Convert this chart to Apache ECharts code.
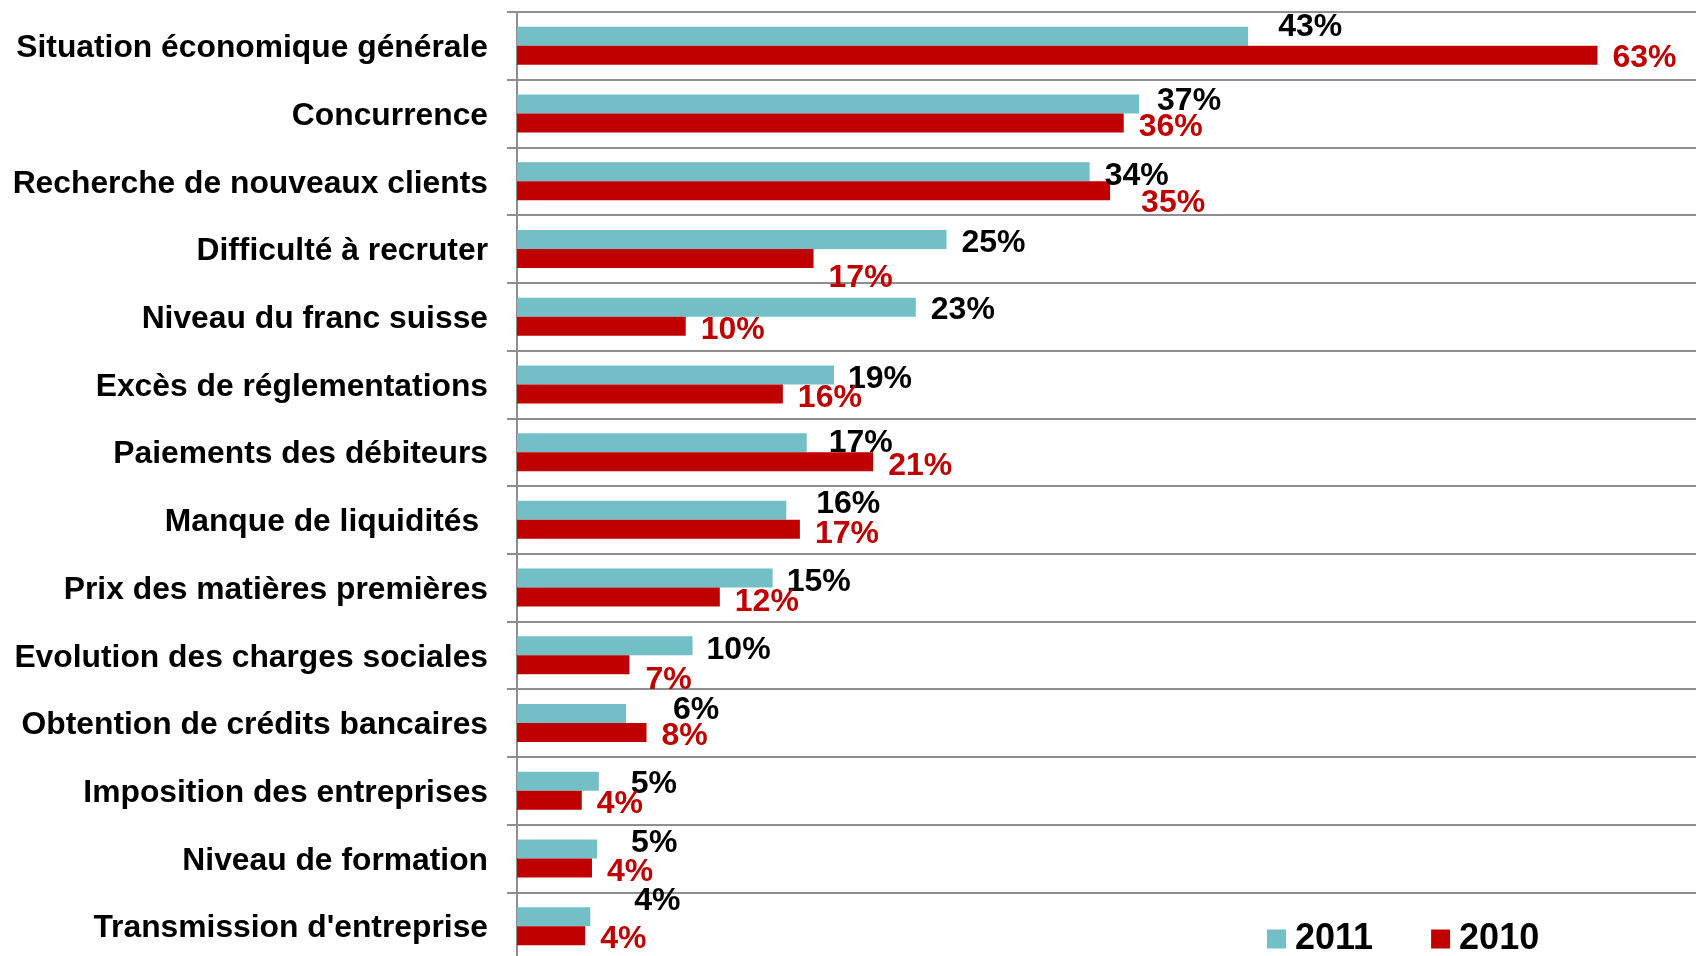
<!DOCTYPE html>
<html>
<head>
<meta charset="utf-8">
<script src="https://cdn.jsdelivr.net/npm/echarts@6/dist/echarts.min.js"></script>
<style>
html,body{margin:0;padding:0;background:#fff;overflow:hidden;width:1696px;height:956px;}
#chart{width:1710px;height:960px;}
</style>
</head>
<body>
<div id="chart"></div>
<script>
const categories = [
  "Situation économique générale",
  "Concurrence",
  "Recherche de nouveaux clients",
  "Difficulté à recruter",
  "Niveau du franc suisse",
  "Excès de réglementations",
  "Paiements des débiteurs",
  "Manque de liquidités ",
  "Prix des matières premières",
  "Evolution des charges sociales",
  "Obtention de crédits bancaires",
  "Imposition des entreprises",
  "Niveau de formation",
  "Transmission d'entreprise"
];
const values2011 = [42.9, 36.5, 33.6, 25.2, 23.4, 18.6, 17.0, 15.8, 15.0, 10.3, 6.4, 4.8, 4.7, 4.3];
const values2010 = [63.4, 35.6, 34.8, 17.4, 9.9, 15.6, 20.9, 16.6, 11.9, 6.6, 7.6, 3.8, 4.4, 4.0];
const seriesNames = ["2011", "2010"];

// label nudges (style only)
const labelNudge2011 = [[16,-9],[4,-3],[1,4],[1,4],[1,3],[0,4],[8,1],[16,-6],[0,4],[0,4],[33,-3],[18,3],[20,-6],[30,-15]];
const labelNudge2010 = [[1,3],[1,4],[17,12],[1,20],[1,4],[1,4],[1,5],[1,5],[1,5],[2,15],[1,4],[1,4],[1,4],[1,4]];

const TEAL = '#72bfc5';
const RED = '#c00000';
const GRID = '#8e8e8e';
const FONT = '"Liberation Sans", Arial, sans-serif';

function mk(vals, nudges) {
  return vals.map((v, i) => ({ value: v, label: { offset: nudges[i] } }));
}

const chart = echarts.init(document.getElementById('chart'), null, { renderer: 'canvas' });
chart.setOption({
  animation: false,
  backgroundColor: '#fff',
  grid: { left: 517, right: 0, top: 12, bottom: 0, containLabel: false },
  legend: {
    data: seriesNames,
    left: 1262,
    top: 916,
    icon: 'rect',
    itemWidth: 19,
    itemHeight: 19,
    itemGap: 58,
    textStyle: { fontFamily: FONT, fontSize: 36, fontWeight: 'bold', color: '#000', padding: [0, 0, 0, 4] }
  },
  xAxis: {
    type: 'value', min: 0, max: 70, interval: 10,
    axisLine: { show: false }, axisTick: { show: false }, axisLabel: { show: false },
    splitLine: { show: false }
  },
  yAxis: {
    type: 'category',
    inverse: true,
    data: categories,
    axisLine: { show: true, lineStyle: { color: GRID, width: 2 } },
    axisTick: { show: true, length: 10, lineStyle: { color: GRID, width: 2 } },
    axisLabel: { fontFamily: FONT, fontSize: 31.8, fontWeight: 'bold', color: '#000', margin: 29,
      verticalAlign: 'top', lineHeight: 5 },
    splitLine: { show: true, lineStyle: { color: GRID, width: 2 } }
  },
  series: [
    {
      name: seriesNames[0], type: 'bar', barWidth: 19, barGap: '0%',
      itemStyle: { color: TEAL },
      label: { show: true, position: 'right', distance: 14, fontFamily: FONT, fontSize: 32, fontWeight: 'bold', color: '#000',
        formatter: p => Math.round(p.value) + '%' },
      data: mk(values2011, labelNudge2011)
    },
    {
      name: seriesNames[1], type: 'bar', barWidth: 19, barGap: '0%',
      itemStyle: { color: RED },
      label: { show: true, position: 'right', distance: 14, fontFamily: FONT, fontSize: 32, fontWeight: 'bold', color: RED,
        formatter: p => Math.round(p.value) + '%' },
      data: mk(values2010, labelNudge2010)
    }
  ]
});
</script>
</body>
</html>
